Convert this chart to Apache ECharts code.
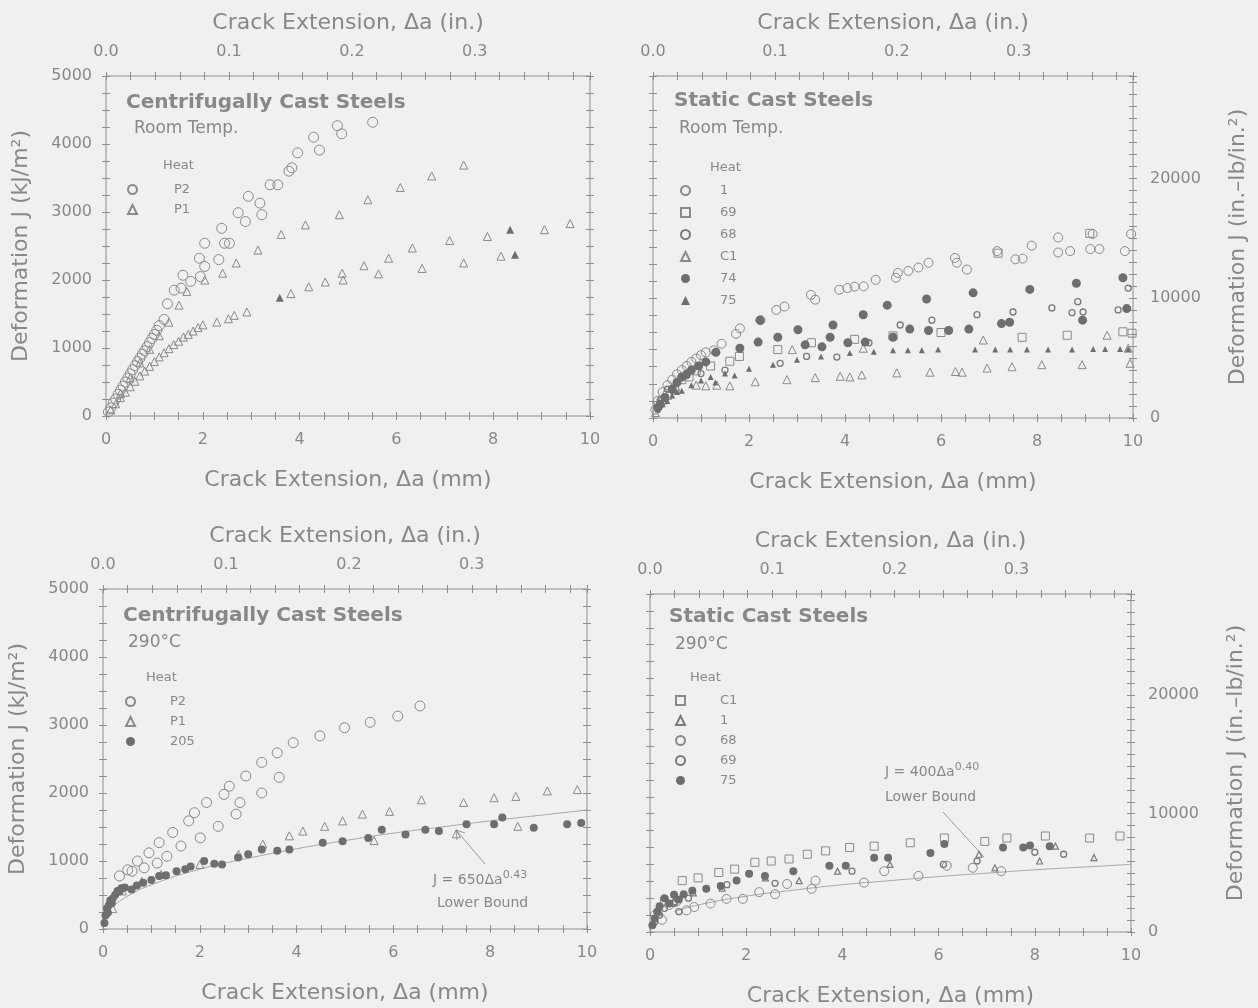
<!DOCTYPE html>
<html><head><meta charset="utf-8">
<script src="https://cdn.jsdelivr.net/npm/echarts@6/dist/echarts.min.js"></script>
<style>html,body{margin:0;background:#f0f0f0}#c{width:1258px;height:1008px}</style>
</head><body><div id="c"></div>
<script>
// ---------- tick labels ----------
const mmTicks = [0, 2, 4, 6, 8, 10];
const inTicks = ['0.0', '0.1', '0.2', '0.3'];
const jTicks = [0, 1000, 2000, 3000, 4000, 5000];
const inlbTicks = [0, 10000, 20000];
const INLB_PER_KJ = 5.71;

// ---------- Top-left: Centrifugally cast, room temp ----------
const tl_P2 = [[0.05,60],[0.1,120],[0.15,190],[0.2,250],[0.25,320],[0.3,380],[0.35,440],[0.4,500],[0.45,560],[0.5,620],[0.55,680],[0.6,740],[0.65,800],[0.7,850],[0.75,910],[0.8,960],[0.85,1020],[0.9,1080],[0.95,1140],[1.0,1200],[1.05,1260],[1.1,1330],[1.2,1420],[1.27,1650],[1.41,1850],[1.55,1880],[1.59,2070],[1.75,1980],[1.93,2320],[1.95,2050],[2.04,2540],[2.04,2200],[2.33,2300],[2.39,2760],[2.45,2540],[2.55,2540],[2.73,2990],[2.88,2860],[2.94,3230],[3.18,3130],[3.22,2960],[3.39,3400],[3.55,3400],[3.78,3600],[3.84,3650],[3.96,3870],[4.29,4100],[4.41,3910],[4.78,4270],[4.87,4150],[5.51,4320]];
const tl_P1 = [[0.3,330],[0.5,560],[0.7,780],[0.9,980],[1.1,1180],[1.3,1380],[1.51,1630],[1.67,1830],[2.04,2000],[2.41,2100],[2.69,2250],[3.14,2440],[3.62,2670],[4.12,2810],[4.82,2960],[5.41,3180],[6.08,3360],[6.73,3530],[7.39,3690],
  [0.1,90],[0.2,180],[0.3,270],[0.4,350],[0.5,430],[0.6,510],[0.7,590],[0.8,660],[0.9,730],[1.0,800],[1.1,870],[1.2,930],[1.3,990],[1.4,1050],[1.5,1100],[1.6,1160],[1.7,1200],[1.8,1250],[1.9,1300],[2.0,1340],[2.29,1380],[2.53,1430],[2.65,1480],[2.91,1530],[3.82,1800],[4.19,1900],[4.53,1970],[4.90,2000],[4.88,2100],[5.33,2210],[5.63,2090],[5.84,2320],[6.33,2470],[6.53,2170],[7.10,2580],[7.39,2250],[7.88,2640],[8.16,2350],[9.06,2740],[9.59,2830]];
const tl_P1_filled = [[3.59,1740],[8.35,2740],[8.45,2370]];

// ---------- Top-right: Static cast, room temp ----------
const tr_h1 = [[0.05,120],[0.1,250],[0.2,380],[0.3,480],[0.4,560],[0.5,640],[0.6,700],[0.7,760],[0.8,820],[0.9,870],[1.0,920],[1.1,960],[1.27,990],[1.43,1085],[1.73,1230],[1.81,1310],[2.24,1430],[2.57,1580],[2.74,1630],[3.29,1800],[3.38,1730],[3.88,1875],[4.05,1900],[4.2,1920],[4.39,1925],[4.64,2020],[5.06,2050],[5.1,2120],[5.32,2150],[5.53,2200],[5.74,2270],[6.29,2340],[6.33,2270],[6.54,2170],[7.17,2440],[7.55,2320],[7.7,2330],[7.89,2520],[8.44,2420],[8.44,2640],[8.69,2440],[9.11,2470],[9.16,2690],[9.3,2470],[9.83,2440],[9.96,2690]];
const tr_h69 = [[0.1,180],[0.2,260],[0.3,330],[0.45,420],[0.6,560],[0.75,600],[0.9,690],[1.2,760],[1.6,830],[1.8,900],[2.6,1000],[3.3,1100],[4.2,1150],[5.0,1200],[6.0,1250],[7.19,2410],[7.69,1180],[8.63,1210],[9.1,2700],[9.79,1260],[9.98,1240]];
const tr_h68 = [[0.15,260],[0.3,420],[0.5,520],[0.7,620],[1.0,650],[1.5,700],[2.65,800],[3.2,900],[3.83,890],[4.5,1100],[5.15,1360],[5.81,1430],[6.75,1510],[7.5,1550],[8.31,1610],[8.73,1540],[8.85,1700],[8.96,1550],[9.69,1580],[9.9,1900]];
const tr_C1 = [[0.05,80],[0.2,300],[0.5,420],[0.9,480],[1.1,470],[1.33,480],[1.6,470],[2.13,530],[2.79,560],[3.38,590],[3.9,610],[4.1,600],[4.35,630],[5.08,660],[5.77,670],[6.3,680],[6.44,670],[6.96,730],[7.48,750],[8.1,780],[8.94,780],[9.94,800],[2.9,1000],[4.38,1020],[6.88,1140],[9.46,1210],[9.9,1020]];
const tr_74 = [[0.1,150],[0.15,200],[0.25,300],[0.4,420],[0.5,520],[0.6,600],[0.7,640],[0.8,700],[0.95,760],[1.1,820],[1.31,960],[1.81,1020],[2.19,1110],[2.23,1430],[2.6,1180],[3.02,1290],[3.17,1070],[3.52,1040],[3.69,1180],[3.75,1360],[4.06,1100],[4.38,1510],[4.42,1110],[4.88,1650],[5.0,1180],[5.35,1300],[5.7,1740],[5.74,1280],[6.16,1280],[6.58,1300],[6.67,1830],[7.26,1380],[7.43,1400],[7.85,1880],[8.82,1970],[8.95,1430],[9.79,2050],[9.87,1600]];
const tr_75 = [[0.1,120],[0.2,200],[0.3,250],[0.4,330],[0.5,380],[0.6,400],[0.8,480],[1.0,550],[1.2,600],[1.3,520],[1.5,650],[1.7,620],[2.0,720],[2.5,780],[3.0,850],[3.5,900],[4.1,950],[4.6,970],[5.0,990],[5.31,990],[5.6,990],[5.94,1000],[6.71,1000],[7.13,1000],[7.44,1000],[7.79,1000],[8.23,1000],[8.73,1000],[9.17,1010],[9.42,1010],[9.73,1010],[9.9,1010]];

// ---------- Bottom-left: Centrifugally cast, 290 C ----------
const bl_P2 = [[0.34,780],[0.51,870],[0.71,1000],[0.95,1120],[1.16,1270],[1.44,1420],[1.77,1590],[1.89,1710],[2.14,1860],[2.5,1980],[2.61,2100],[2.95,2250],[3.28,2450],[3.6,2590],[3.93,2740],[4.48,2840],[4.99,2960],[5.52,3040],[6.09,3130],[6.55,3280],
  [0.6,850],[0.85,900],[1.12,970],[1.32,1070],[1.61,1220],[2.01,1340],[2.38,1510],[2.75,1690],[2.83,1860],[3.28,2000],[3.64,2230]];
const bl_P1 = [[0.2,300],[0.4,560],[0.8,700],[1.2,800],[2.0,950],[2.8,1100],[3.3,1250],[3.85,1370],[4.13,1440],[4.58,1510],[4.95,1590],[5.36,1690],[5.92,1730],[6.58,1900],[7.45,1860],[8.08,1930],[8.53,1950],[9.18,2030],[9.8,2050],[5.6,1300],[8.57,1510],[7.3,1400]];
const bl_205 = [[0.03,90],[0.05,200],[0.08,300],[0.1,240],[0.12,350],[0.15,420],[0.18,380],[0.2,450],[0.25,500],[0.3,560],[0.34,550],[0.38,600],[0.45,610],[0.59,580],[0.7,640],[0.83,680],[1.0,720],[1.16,780],[1.3,790],[1.52,850],[1.7,880],[1.81,920],[2.09,1000],[2.3,960],[2.46,950],[2.79,1050],[3.0,1100],[3.28,1170],[3.6,1150],[3.85,1170],[4.54,1270],[4.95,1290],[5.48,1340],[5.76,1460],[6.25,1390],[6.66,1460],[6.94,1440],[7.51,1540],[8.08,1540],[8.25,1640],[8.9,1490],[9.59,1540],[9.88,1560]];
const bl_bound = [[0.2,330],[0.5,480],[1,650],[2,880],[3,1040],[4,1180],[5,1300],[6,1410],[7,1500],[8,1590],[9,1670],[10,1750]];

// ---------- Bottom-right: Static cast, 290 C ----------
const br_C1 = [[0.3,450],[0.67,760],[1.0,800],[1.43,880],[1.76,930],[2.18,1030],[2.52,1050],[2.89,1080],[3.27,1150],[3.65,1200],[4.15,1250],[4.66,1270],[5.41,1320],[6.12,1390],[6.96,1340],[7.42,1390],[8.22,1420],[9.14,1390],[9.77,1420]];
const br_1 = [[0.2,300],[0.5,450],[0.9,580],[1.5,650],[2.4,800],[3.1,760],[3.9,900],[4.99,1000],[6.84,1150],[7.17,950],[8.1,1050],[8.43,1270],[9.23,1100]];
const br_68 = [[0.1,250],[0.25,180],[0.4,400],[0.55,450],[0.76,320],[0.92,370],[1.26,420],[1.59,490],[1.93,490],[2.27,590],[2.6,560],[2.85,710],[3.36,640],[3.44,760],[4.45,730],[4.87,900],[5.58,830],[6.17,980],[6.71,950],[7.3,900]];
const br_69 = [[0.1,150],[0.2,250],[0.3,350],[0.5,420],[0.6,300],[0.8,500],[1.6,700],[2.6,720],[4.2,900],[6.1,1000],[6.8,1050],[8.0,1180],[8.6,1150]];
const br_75 = [[0.05,100],[0.1,200],[0.15,300],[0.2,380],[0.3,500],[0.4,420],[0.5,550],[0.6,480],[0.7,560],[0.88,610],[1.17,640],[1.47,680],[1.8,760],[2.06,860],[2.39,830],[2.98,900],[3.73,980],[4.07,980],[4.66,1100],[4.95,1100],[5.83,1170],[6.12,1300],[7.34,1250],[7.76,1250],[7.9,1280],[8.31,1270]];
const br_bound = [[0.5,300],[1,400],[2,530],[3,620],[4,700],[5,760],[6,820],[7,870],[8,920],[9,960],[10,1000]];

// ---------- styling ----------
const AX = '#8e8e8e', TXT = '#888888', MK = '#8a8a8a', MKD = '#6e6e6e';
const FONT = 'DejaVu Sans';
const grids = [
  {left:106, top:76, width:484, height:340},
  {left:653, top:76, width:480, height:342},
  {left:103, top:589, width:484, height:340},
  {left:650, top:594, width:481, height:338}
];
const hasRight = [false, true, false, true];
const OFF = -4;     // axis drawn 4px inside the frame so 8px ticks cross it
const TL = 8;

const xAxes = [], yAxes = [];
function tick(){ return {show:true, inside:false, length:TL, lineStyle:{color:AX, width:1}}; }
function minor(n){ return {show:true, splitNumber:n, length:TL, lineStyle:{color:AX, width:1}}; }
const nameStyle = {color:TXT, fontSize:22, fontFamily:FONT};
const labStyle = {color:TXT, fontSize:16, fontFamily:FONT};
const plain = (v) => String(Math.round(v));

grids.forEach((g, i) => {
  xAxes.push({type:'value', gridIndex:i, position:'bottom', offset:OFF, min:mmTicks[0], max:mmTicks[mmTicks.length-1], interval:2,
    axisLine:{show:false, onZero:false}, axisTick:tick(), minorTick:minor(4),
    splitLine:{show:false}, axisLabel:Object.assign({margin:20, formatter:plain}, labStyle),
    name:'Crack Extension, Δa (mm)', nameLocation:'middle', nameGap:57, nameTextStyle:nameStyle});
  xAxes.push({type:'value', gridIndex:i, position:'top', offset:OFF, min:0, max:10/25.4, interval:0.1,
    axisLine:{show:false, onZero:false}, axisTick:tick(), minorTick:minor(5),
    splitLine:{show:false}, axisLabel:Object.assign({margin:20, showMaxLabel:false,
      formatter:(v)=>{ const k = Math.round(v*10); return Math.abs(v*10-k)<1e-6 && inTicks[k] ? inTicks[k] : ''; }}, labStyle),
    name:'Crack Extension, Δa (in.)', nameLocation:'middle', nameGap:46, nameTextStyle:nameStyle});
  const leftLab = !hasRight[i];
  yAxes.push({type:'value', gridIndex:i, position:'left', offset:OFF, min:jTicks[0], max:jTicks[jTicks.length-1], interval:1000,
    axisLine:{show:false, onZero:false}, axisTick:tick(), minorTick:minor(4),
    splitLine:{show:false}, axisLabel:Object.assign({show:leftLab, margin:18, formatter:plain}, labStyle),
    name: leftLab ? 'Deformation J (kJ/m²)' : '', nameLocation:'middle', nameGap:78, nameTextStyle:nameStyle});
  if (hasRight[i]) {
    yAxes.push({type:'value', gridIndex:i, position:'right', offset:OFF, min:inlbTicks[0], max:5000*INLB_PER_KJ, interval:10000,
      axisLine:{show:false, onZero:false}, axisTick:tick(), minorTick:minor(10),
      splitLine:{show:false}, axisLabel:Object.assign({margin:21, showMaxLabel:false, formatter:plain}, labStyle),
      name:'Deformation J (in.–lb/in.²)', nameLocation:'middle', nameGap:98, nameTextStyle:nameStyle});
  } else {
    yAxes.push({type:'value', gridIndex:i, position:'right', offset:OFF, min:0, max:5000, interval:1000,
      axisLine:{show:false, onZero:false}, axisTick:tick(), minorTick:minor(4),
      splitLine:{show:false}, axisLabel:{show:false}});
  }
});

function sc(name, g, data, symbol, size, filled, color, bw) {
  return {type:'scatter', name:name, xAxisIndex:2*g, yAxisIndex:2*g, data:data, symbol:symbol, symbolSize:size,
    itemStyle: filled ? {color:color || MKD, opacity:1} : {color:'rgba(0,0,0,0)', borderColor:color || MK, borderWidth:bw || 1, opacity:1},
    emphasis:{disabled:true}, z:3};
}
function bound(g, data) {
  return {type:'line', xAxisIndex:2*g, yAxisIndex:2*g, data:data, smooth:true, showSymbol:false, symbol:'none',
    lineStyle:{color:'#a6a6a6', width:1}, emphasis:{disabled:true}, z:2};
}

const series = [
  sc('TL|P2', 0, tl_P2, 'circle', 10, false),
  sc('TL|P1', 0, tl_P1, 'triangle', 8, false),
  sc('TL|P1f', 0, tl_P1_filled, 'triangle', 8, true),
  sc('TR|1', 1, tr_h1, 'circle', 9, false),
  sc('TR|69', 1, tr_h69, 'rect', 8, false),
  sc('TR|68', 1, tr_h68, 'circle', 6, false, '#7a7a7a', 1.3),
  sc('TR|C1', 1, tr_C1, 'triangle', 8, false),
  sc('TR|74', 1, tr_74, 'circle', 9, true),
  sc('TR|75', 1, tr_75, 'triangle', 6, true),
  bound(2, bl_bound),
  sc('BL|P2', 2, bl_P2, 'circle', 10, false),
  sc('BL|P1', 2, bl_P1, 'triangle', 8, false),
  sc('BL|205', 2, bl_205, 'circle', 8, true),
  bound(3, br_bound),
  sc('BR|C1', 3, br_C1, 'rect', 8, false),
  sc('BR|1', 3, br_1, 'triangle', 6, false, '#7a7a7a', 1.2),
  sc('BR|68', 3, br_68, 'circle', 9, false),
  sc('BR|69', 3, br_69, 'circle', 6, false, '#7a7a7a', 1.3),
  sc('BR|75', 3, br_75, 'circle', 8, true)
];

function lg(names, left, top, gap, pad) {
  return {data:names, left:left, top:top, orient:'vertical', itemWidth:9, itemHeight:9, itemGap:gap,
    selectedMode:false, formatter:(n)=>n.split('|')[1], backgroundColor:'transparent',
    textStyle:{color:TXT, fontSize:13, fontFamily:FONT, lineHeight:12, padding:[0,0,0,pad]}, padding:0};
}

function txt(x, y, s, size, bold) {
  return {type:'text', x:x, y:y, silent:true, style:{text:s, fill:TXT, fontSize:size, fontWeight:bold?'bold':'normal', fontFamily:FONT, verticalAlign:'middle'}};
}
function eqText(x, y, coef, exp) {
  return {type:'text', x:x, y:y, silent:true, style:{text:'{a|J = ' + coef + 'Δa}{b|' + exp + '}', fill:TXT, verticalAlign:'middle',
    rich:{a:{fontSize:14, fontFamily:FONT, fill:TXT}, b:{fontSize:11, fontFamily:FONT, fill:TXT, padding:[0,0,10,0]}}}};
}
function seg(x1, y1, x2, y2) {
  return {type:'line', silent:true, shape:{x1:x1, y1:y1, x2:x2, y2:y2}, style:{stroke:'#9a9a9a', lineWidth:1}};
}

const graphic = [
  txt(126, 103, 'Centrifugally Cast Steels', 20, true),
  txt(134, 129, 'Room Temp.', 17),
  txt(163, 166, 'Heat', 13),
  txt(674, 101, 'Static Cast Steels', 20, true),
  txt(679, 129, 'Room Temp.', 17),
  txt(710, 168, 'Heat', 13),
  txt(123, 616, 'Centrifugally Cast Steels', 20, true),
  txt(128, 643, '290°C', 17),
  txt(146, 678, 'Heat', 13),
  txt(669, 617, 'Static Cast Steels', 20, true),
  txt(675, 645, '290°C', 17),
  txt(690, 678, 'Heat', 13),
  eqText(433, 880, '650', '0.43'),
  txt(437, 903, 'Lower Bound', 14),
  seg(485, 864, 456, 830),
  seg(456, 830, 457, 840), seg(456, 830, 465, 833),
  eqText(885, 772, '400', '0.40'),
  txt(885, 797, 'Lower Bound', 14),
  seg(943, 812, 984, 857)
];

const option = {
  backgroundColor:'#f0f0f0',
  animation:false,
  grid: grids.map(g => Object.assign({containLabel:false, show:true, borderColor:AX, borderWidth:1, backgroundColor:'transparent'}, g)),
  xAxis: xAxes,
  yAxis: yAxes,
  legend: [
    lg(['TL|P2','TL|P1'], 127, 183, 7, 32),
    lg(['TR|1','TR|69','TR|68','TR|C1','TR|74','TR|75'], 680, 184, 9, 25),
    lg(['BL|P2','BL|P1','BL|205'], 125, 695, 7, 30),
    lg(['BR|C1','BR|1','BR|68','BR|69','BR|75'], 675, 694, 7, 30)
  ],
  graphic: graphic,
  series: series
};
const chart = echarts.init(document.getElementById('c'), null, {renderer:'canvas'});
chart.setOption(option);
</script></body></html>
